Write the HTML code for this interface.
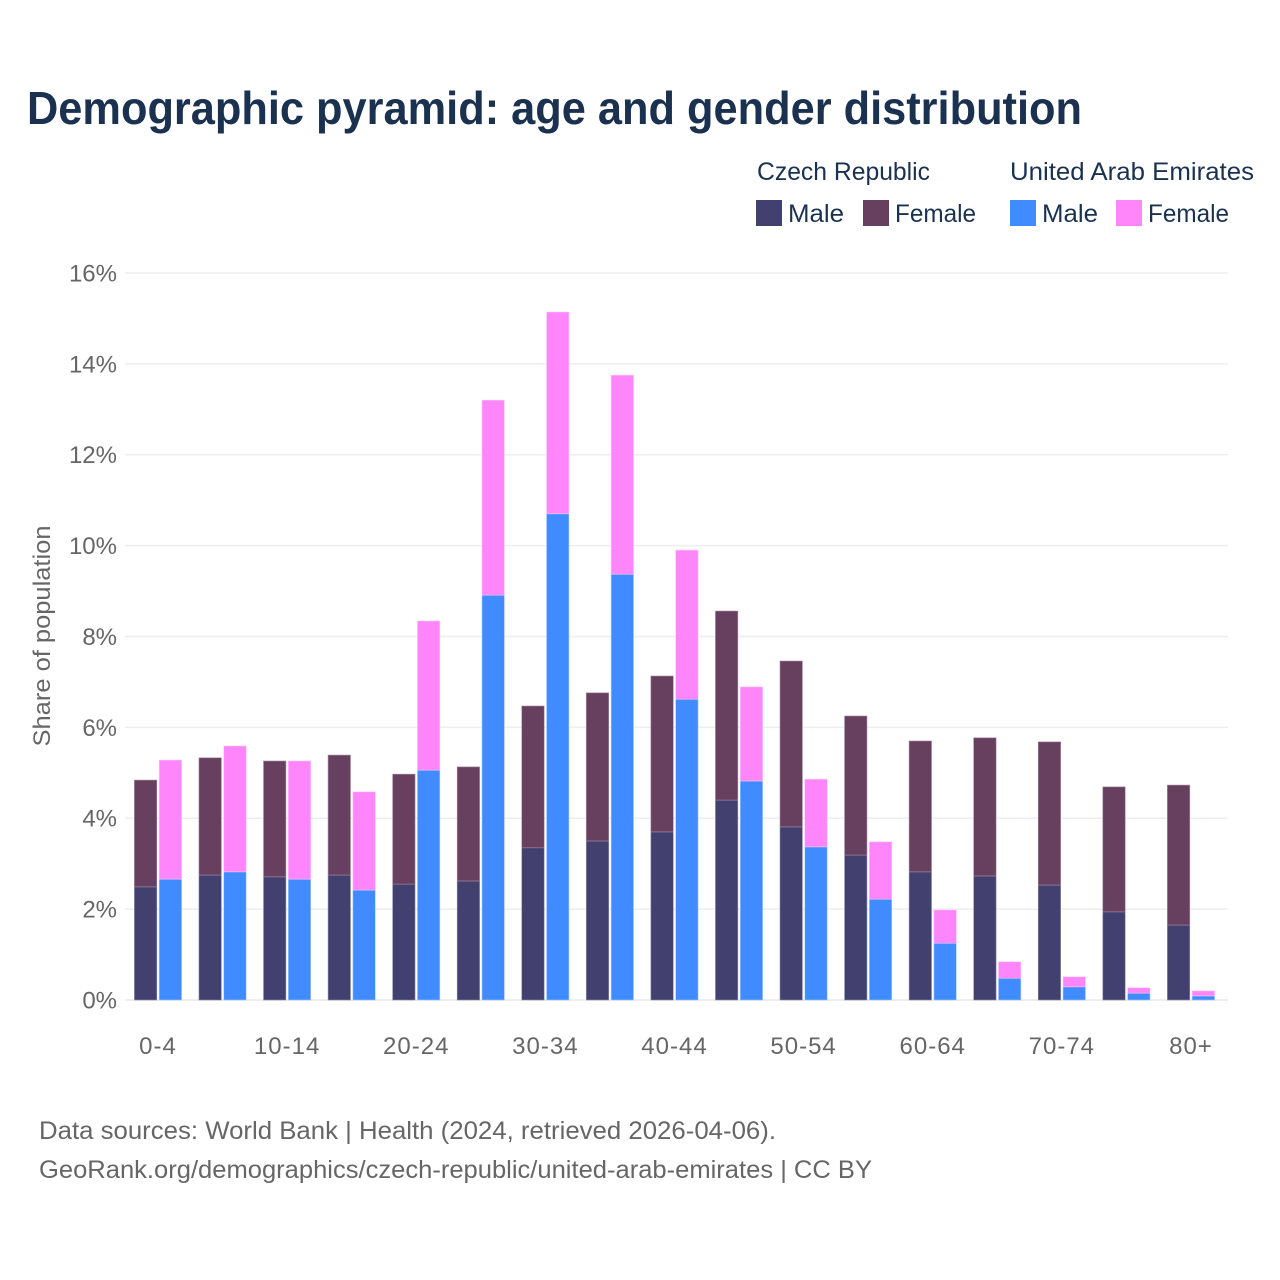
<!DOCTYPE html>
<html lang="en">
<head>
<meta charset="utf-8">
<title>Demographic pyramid: age and gender distribution</title>
<style>
html,body{margin:0;padding:0;background:#fff;}
svg{display:block;font-family:"Liberation Sans",sans-serif;}
</style>
</head>
<body>
<svg id="chart" xmlns="http://www.w3.org/2000/svg" width="1280" height="1280" viewBox="0 0 1280 1280">
<rect width="1280" height="1280" fill="#ffffff"/>
<text x="27" y="124" font-size="46" font-weight="700" fill="#1a3150" textLength="1055" lengthAdjust="spacingAndGlyphs">Demographic pyramid: age and gender distribution</text>

<g font-size="25" fill="#1a3150">
<text x="757" y="180" textLength="173" lengthAdjust="spacingAndGlyphs">Czech Republic</text>
<text x="1010" y="180" textLength="244" lengthAdjust="spacingAndGlyphs">United Arab Emirates</text>
<g>
<rect x="756" y="200" width="26" height="26" fill="#42406f"/>
<text x="788" y="222" textLength="56" lengthAdjust="spacingAndGlyphs">Male</text>
</g>
<g>
<rect x="863" y="200" width="26" height="26" fill="#674060"/>
<text x="895" y="222" textLength="81" lengthAdjust="spacingAndGlyphs">Female</text>
</g>
<g>
<rect x="1010" y="200" width="26" height="26" fill="#3f8bff"/>
<text x="1042" y="222" textLength="56" lengthAdjust="spacingAndGlyphs">Male</text>
</g>
<g>
<rect x="1116" y="200" width="26" height="26" fill="#ff85fb"/>
<text x="1148" y="222" textLength="81" lengthAdjust="spacingAndGlyphs">Female</text>
</g>
</g>

<g id="grid"></g>
<g id="y-labels"></g>
<g id="bars"></g>
<g id="x-labels"></g>

<text transform="translate(50 636) rotate(-90)" text-anchor="middle" font-size="24" fill="#666666" textLength="221" lengthAdjust="spacingAndGlyphs">Share of population</text>

<g font-size="25" fill="#666666">
<text x="39" y="1139" textLength="737" lengthAdjust="spacingAndGlyphs">Data sources: World Bank | Health (2024, retrieved 2026-04-06).</text>
<text x="39" y="1178" textLength="833" lengthAdjust="spacingAndGlyphs">GeoRank.org/demographics/czech-republic/united-arab-emirates | CC BY</text>
</g>
</svg>
<script>
const categories = ["0-4","5-9","10-14","15-19","20-24","25-29","30-34","35-39","40-44","45-49","50-54","55-59","60-64","65-69","70-74","75-79","80+"];
const xTickLabels = ["0-4","10-14","20-24","30-34","40-44","50-54","60-64","70-74","80+"];
const yTicks = [0,2,4,6,8,10,12,14,16];
const czechMale = [2.49,2.75,2.71,2.75,2.55,2.62,3.35,3.50,3.70,4.40,3.81,3.19,2.82,2.73,2.53,1.94,1.65];
const czechFemale = [2.35,2.58,2.55,2.64,2.42,2.51,3.12,3.26,3.43,4.16,3.65,3.06,2.88,3.04,3.15,2.75,3.08];
const uaeMale = [2.66,2.82,2.66,2.42,5.06,8.91,10.70,9.37,6.62,4.82,3.37,2.22,1.25,0.48,0.29,0.15,0.09];
const uaeFemale = [2.62,2.77,2.60,2.16,3.28,4.29,4.44,4.38,3.28,2.07,1.49,1.26,0.73,0.36,0.22,0.12,0.11];

const NS = "http://www.w3.org/2000/svg";
const plotLeft = 125, plotRight = 1228, y0 = 1000, pxPerUnit = 45.44;
const firstCenter = 158, step = 64.56, barWidth = 22.4, barGap = 2.4;
const yScale = v => y0 - v * pxPerUnit;
const xCenter = i => firstCenter + i * step;

const grid = document.getElementById("grid");
const yLabels = document.getElementById("y-labels");
yTicks.forEach(t => {
  const line = document.createElementNS(NS, "line");
  
  
  line.setAttribute("x1", plotLeft);
  line.setAttribute("x2", plotRight);
  line.setAttribute("y1", yScale(t));
  line.setAttribute("y2", yScale(t));
  line.setAttribute("stroke", "#eeeeee");
  line.setAttribute("stroke-width", t === 0 ? 2 : 1.5);
  grid.appendChild(line);
  const label = document.createElementNS(NS, "text");
  
  
  label.setAttribute("x", 117);
  label.setAttribute("y", yScale(t) + 8.5);
  label.setAttribute("text-anchor", "end");
  label.setAttribute("font-size", 24);
  label.setAttribute("fill", "#666666");
  label.textContent = t + "%";
  yLabels.appendChild(label);
});

const barsGroup = document.getElementById("bars");
function addSegment(x, bottom, value, fill, stroke) {
  const top = yScale(bottom + value);
  const rect = document.createElementNS(NS, "rect");
  
  
  rect.setAttribute("x", x);
  rect.setAttribute("y", top);
  rect.setAttribute("width", barWidth);
  rect.setAttribute("height", yScale(bottom) - top);
  rect.setAttribute("fill", fill);
  rect.setAttribute("stroke", stroke);
  rect.setAttribute("stroke-width", 0.6);
  barsGroup.appendChild(rect);
}
categories.forEach((c, i) => {
  const cx = xCenter(i);
  const leftX = cx - barGap / 2 - barWidth;
  const rightX = cx + barGap / 2;
  addSegment(leftX, 0, czechMale[i], "#42406f", "#8f8dad");
  addSegment(leftX, czechMale[i], czechFemale[i], "#674060", "#a48a9d");
  addSegment(rightX, 0, uaeMale[i], "#3f8bff", "#a9cbff");
  addSegment(rightX, uaeMale[i], uaeFemale[i], "#ff85fb", "#ffc4fd");
});

const xLabels = document.getElementById("x-labels");
xTickLabels.forEach(name => {
  const label = document.createElementNS(NS, "text");
  
  
  label.setAttribute("x", xCenter(categories.indexOf(name)));
  label.setAttribute("y", 1054);
  label.setAttribute("text-anchor", "middle");
  label.setAttribute("font-size", 24);
  label.setAttribute("letter-spacing", 1);
  label.setAttribute("fill", "#666666");
  label.textContent = name;
  xLabels.appendChild(label);
});
</script>
</body>
</html>
